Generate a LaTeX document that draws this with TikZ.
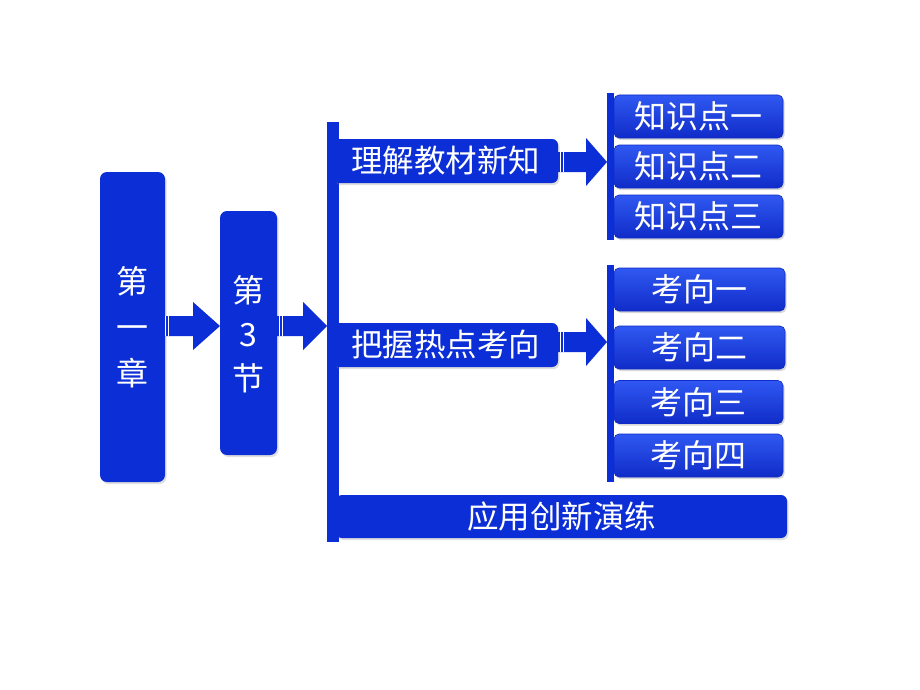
\documentclass[tikz,border=0pt]{standalone}
\usepackage{fontspec}
\setmainfont{Noto Sans CJK SC}
\usetikzlibrary{calc,shadows}
\definecolor{mainblue}{RGB}{11,46,214}
\definecolor{lightblue}{RGB}{48,88,242}
\definecolor{darkblue}{RGB}{16,44,200}
\tikzset{
  mainbox/.style={fill=mainblue, rounded corners=7pt, inner sep=0pt, text=white,
    font=\fontsize{31.5}{44}\selectfont, align=center,
    drop shadow={opacity=0.25, shadow xshift=1.5pt, shadow yshift=-2pt}},
  glossbox/.style={top color=lightblue, bottom color=darkblue, draw=darkblue, line width=0.6pt,
    rounded corners=5pt, inner sep=0pt, text=white, font=\fontsize{32}{36}\selectfont,
    drop shadow={opacity=0.3, shadow xshift=1.5pt, shadow yshift=-2pt}},
  vbar/.style={fill=mainblue, inner sep=0pt},
  arrowfill/.style={fill=mainblue},
}
% #1 tail coordinate, #2 tip coordinate, #3 head length
\newcommand\myblockarrow[3]{%
  \fill[arrowfill] ($(#1)+(0,-10)$) -- ($(#2)+(-#3,-10)$) -- ($(#2)+(-#3,-24)$) -- (#2)
    -- ($(#2)+(-#3,24)$) -- ($(#2)+(-#3,10)$) -- ($(#1)+(0,10)$) -- cycle;
  \draw[white, line width=0.9pt] ($(#1)+(2.5,-10)$) -- ($(#1)+(2.5,10)$);
  \draw[white, line width=0.9pt] ($(#1)+(5.5,-10)$) -- ($(#1)+(5.5,10)$);
}
\begin{document}
\begin{tikzpicture}[x=1pt,y=-1pt]
\path[use as bounding box, fill=white] (0,0) rectangle (920,690);

% left boxes
\node[mainbox, minimum width=65pt, minimum height=310pt] (ch) at (132.5,327) {};
\node[text=white, font=\fontsize{32}{46}\selectfont, align=center] (cht) at (132.5,327) {第\\一\\章};
\node[mainbox, minimum width=57pt, minimum height=244pt] (sec) at (248.5,333) {};
\node[text=white, font=\fontsize{32}{44}\selectfont, align=center] (sect) at (248.5,334) {第\\3\\节};

% main vertical bar
\node[vbar, minimum width=12pt, minimum height=420pt] (bar) at (333,332) {};

% arrows from left boxes
\coordinate (a1t) at (163,326);
\coordinate (a1h) at (220,326);
\myblockarrow{a1t}{a1h}{27}
\coordinate (a2t) at (277,326);
\coordinate (a2h) at (327,326);
\myblockarrow{a2t}{a2h}{24}

% middle boxes
\node[mainbox, minimum width=225pt, minimum height=44pt, rounded corners=6pt] (m1) at (445.5,161) {理解教材新知};
\node[mainbox, minimum width=225pt, minimum height=44pt, rounded corners=6pt] (m2) at (445.5,345) {把握热点考向};
\node[mainbox, minimum width=451pt, minimum height=43pt, rounded corners=6pt] (m3) at (561.5,516.5) {应用创新演练};

% right bars
\node[vbar, minimum width=7pt, minimum height=147pt] (bar1) at (610.5,166.5) {};
\node[vbar, minimum width=7pt, minimum height=217pt] (bar2) at (610.5,373.5) {};

% arrows to right bars
\coordinate (a3t) at (558,162);
\coordinate (a3h) at (607,162);
\myblockarrow{a3t}{a3h}{21}
\coordinate (a4t) at (558,342);
\coordinate (a4h) at (607,342);
\myblockarrow{a4t}{a4h}{21}

% right glossy boxes
\node[glossbox, minimum width=169pt, minimum height=43pt] (k1) at (698.5,116.5) {知识点一};
\node[glossbox, minimum width=169pt, minimum height=43pt] (k2) at (698.5,166.5) {知识点二};
\node[glossbox, minimum width=169pt, minimum height=43pt] (k3) at (698.5,216.5) {知识点三};

\node[glossbox, minimum width=171pt, minimum height=43pt] (q1) at (699.5,289.5) {考向一};
\node[glossbox, minimum width=171pt, minimum height=43pt] (q2) at (699.5,347.5) {考向二};
\node[glossbox, minimum width=169pt, minimum height=43pt] (q3) at (698.5,402) {考向三};
\node[glossbox, minimum width=169pt, minimum height=43pt] (q4) at (698.5,455.5) {考向四};
\end{tikzpicture}
\end{document}
